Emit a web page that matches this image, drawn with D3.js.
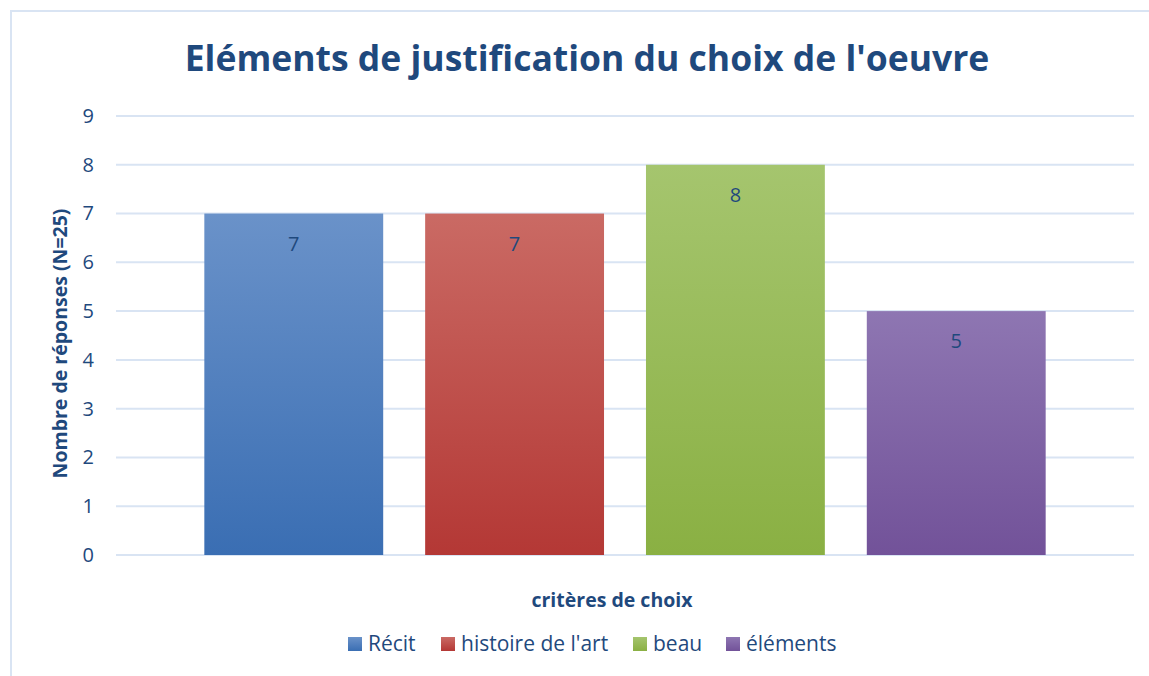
<!DOCTYPE html>
<html>
<head>
<meta charset="utf-8">
<script src="https://cdn.jsdelivr.net/npm/d3@7"></script>
<style>
  body { margin: 0; background: #fff; }
  svg { display: block; font-family: "Open Sans", sans-serif; }
</style>
</head>
<body>
<svg width="1149" height="676"></svg>
<script>
// chart data
const categories = ['Récit', "histoire de l'art", 'beau', 'éléments'];
const values = [7, 7, 8, 5];
const yTicks = [0, 1, 2, 3, 4, 5, 6, 7, 8, 9];
const titleText = "Eléments de justification du choix de l'oeuvre";
const yTitle = 'Nombre de réponses (N=25)';
const xTitle = 'critères de choix';

const colors = [
    { top: '#6a92c9', bottom: '#3a6eb3' },
    { top: '#ca6a64', bottom: '#b43835' },
    { top: '#a5c56e', bottom: '#8ab043' },
    { top: '#8e76b2', bottom: '#725299' }
];

const textColor = '#1f497d';
const gridColor = '#d9e4f3';

const margin = { top: 116, right: 15, bottom: 121, left: 116 };
const width = 1149 - margin.left - margin.right;
const height = 676 - margin.top - margin.bottom;

const svg = d3.select('svg');

// outer frame
svg.append('path')
    .attr('d', 'M11,676 V11 H1149')
    .attr('fill', 'none')
    .attr('stroke', gridColor)
    .attr('stroke-width', 2);

// gradients
const defs = svg.append('defs');
colors.forEach((c, i) => {
    let g = defs.append('linearGradient')
        .attr('id', 'grad' + i)
        .attr('x1', 0).attr('y1', 0)
        .attr('x2', 0).attr('y2', 1);
    g.append('stop').attr('offset', '0%').attr('stop-color', c.top);
    g.append('stop').attr('offset', '100%').attr('stop-color', c.bottom);
});

// title
svg.append('text')
    .attr('x', 587)
    .attr('y', 71)
    .attr('text-anchor', 'middle')
    .attr('font-size', 35.5)
    .attr('font-weight', 'bold')
    .attr('fill', textColor)
    .text(titleText);

const chart = svg.append('g')
    .attr('transform', 'translate(' + margin.left + ',' + margin.top + ')');

const xScale = d3.scaleBand()
    .domain(categories)
    .range([0, width])
    .paddingInner(0.19)
    .paddingOuter(0.4);

const yScale = d3.scaleLinear()
    .domain([0, 9])
    .range([height, 0]);

// gridlines
chart.append('g')
    .selectAll('line')
    .data(yTicks)
    .join('line')
    .attr('x1', 0)
    .attr('x2', width)
    .attr('y1', d => yScale(d))
    .attr('y2', d => yScale(d))
    .attr('stroke', gridColor)
    .attr('stroke-width', 2);

// y axis labels
const yAxis = d3.axisLeft(yScale)
    .tickValues(yTicks)
    .tickSize(0)
    .tickPadding(22);

chart.append('g')
    .call(yAxis)
    .call(g => g.select('.domain').remove())
    .selectAll('text')
    .attr('font-size', 20)
    .attr('font-family', '"Open Sans", sans-serif')
    .attr('fill', textColor);

// bars
chart.append('g')
    .selectAll('rect')
    .data(values)
    .join('rect')
    .attr('x', (d, i) => xScale(categories[i]))
    .attr('y', d => yScale(d))
    .attr('width', xScale.bandwidth())
    .attr('height', d => height - yScale(d))
    .attr('fill', (d, i) => 'url(#grad' + i + ')');

// value labels
chart.append('g')
    .selectAll('text')
    .data(values)
    .join('text')
    .attr('x', (d, i) => xScale(categories[i]) + xScale.bandwidth() / 2)
    .attr('y', d => yScale(d) + 37)
    .attr('text-anchor', 'middle')
    .attr('font-size', 20)
    .attr('fill', textColor)
    .text(d => d);

// axis titles
svg.append('text')
    .attr('transform', 'translate(67,' + (margin.top + height / 2 + 8) + ') rotate(-90)')
    .attr('text-anchor', 'middle')
    .attr('font-size', 19.5)
    .attr('font-weight', 'bold')
    .attr('fill', textColor)
    .text(yTitle);

svg.append('text')
    .attr('x', 612)
    .attr('y', 607)
    .attr('text-anchor', 'middle')
    .attr('font-size', 19.5)
    .attr('font-weight', 'bold')
    .attr('fill', textColor)
    .text(xTitle);

// legend
const legendX = [348, 441, 633, 726];
const legend = svg.append('g')
    .selectAll('g')
    .data(categories)
    .join('g')
    .attr('transform', (d, i) => 'translate(' + legendX[i] + ',644)');

legend.append('rect')
    .attr('x', 0)
    .attr('y', -7)
    .attr('width', 14)
    .attr('height', 14)
    .attr('fill', (d, i) => 'url(#grad' + i + ')');

legend.append('text')
    .attr('x', 20)
    .attr('y', 7)
    .attr('font-size', 21)
    .attr('fill', textColor)
    .text(d => d);
</script>
</body>
</html>
